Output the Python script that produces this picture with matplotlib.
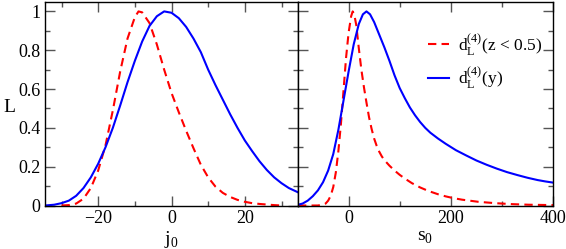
import matplotlib
matplotlib.use('Agg')
import matplotlib.pyplot as plt
from matplotlib.ticker import MultipleLocator

plt.rcParams['font.family'] = ['Liberation Serif', 'DejaVu Serif']
plt.rcParams['mathtext.fontset'] = 'custom'
plt.rcParams['mathtext.rm'] = 'Liberation Serif'

# left panel: L vs j0
j_blue = [-34.5, -32, -30, -28, -26, -24, -22, -20, -18, -16, -14, -12, -10, -8, -6, -4, -2,
          0, 2, 4, 6, 8, 10, 12, 14, 16, 18, 20, 22, 24, 26, 28, 30, 32, 34.5]
L_blue_j = [0.0, 0.004, 0.012, 0.025, 0.05, 0.09, 0.145, 0.215, 0.30, 0.40, 0.515, 0.635, 0.745,
            0.845, 0.925, 0.975, 1.0, 0.993, 0.965, 0.92, 0.86, 0.79, 0.70, 0.62, 0.545, 0.47,
            0.40, 0.335, 0.28, 0.228, 0.183, 0.145, 0.115, 0.09, 0.068]
j_red = [-30, -28, -26, -24, -22, -20, -18, -16, -14, -12, -10, -9, -8, -6, -4, -2,
         0, 2, 4, 6, 8, 10, 12, 14, 16, 18, 20, 22, 24, 26, 28, 30]
L_red_j = [0.0, 0.002, 0.01, 0.035, 0.09, 0.18, 0.31, 0.49, 0.69, 0.86, 0.97, 1.0, 0.995, 0.94,
           0.83, 0.70, 0.58, 0.48, 0.385, 0.295, 0.21, 0.145, 0.097, 0.065, 0.044, 0.029,
           0.019, 0.012, 0.008, 0.005, 0.002, 0.0]

# right panel: L vs s0
s_blue = [-99, -90, -80, -70, -60, -50, -40, -30, -20, -10, 0, 10, 20, 28, 35, 42, 50, 60, 70,
          80, 90, 100, 110, 120, 130, 140, 150, 160, 175, 190, 210, 230, 250, 270, 290, 310,
          330, 350, 370, 385, 400]
L_blue_s = [0.004, 0.01, 0.025, 0.048, 0.078, 0.12, 0.18, 0.265, 0.39, 0.54, 0.69, 0.83, 0.935,
            0.985, 1.0, 0.985, 0.945, 0.88, 0.815, 0.745, 0.67, 0.605, 0.553, 0.505, 0.465, 0.43,
            0.40, 0.375, 0.345, 0.318, 0.285, 0.258, 0.232, 0.21, 0.19, 0.172, 0.157, 0.143,
            0.131, 0.124, 0.118]
s_red = [-99, -60, -50, -45, -40, -35, -30, -25, -20, -15, -10, -5, 0, 5, 8, 11, 15, 20, 25, 30,
         35, 40, 45, 50, 55, 60, 65, 70, 80, 90, 100, 110, 124, 140, 156, 175, 190, 205, 222, 254,
         287, 320, 352, 400]
L_red_s = [0.0, 0.0, 0.005, 0.01, 0.025, 0.05, 0.095, 0.17, 0.28, 0.42, 0.59, 0.76, 0.89, 0.975,
           1.0, 0.985, 0.93, 0.81, 0.70, 0.61, 0.53, 0.455, 0.395, 0.345, 0.307, 0.277, 0.253,
           0.234, 0.205, 0.18, 0.158, 0.139, 0.115, 0.093, 0.075, 0.058, 0.047, 0.038, 0.03,
           0.019, 0.012, 0.007, 0.004, 0.002]

fig = plt.figure(figsize=(5.66, 2.49), dpi=100)
ax1 = fig.add_axes([45/566, 1 - 205.5/249, 253/566, 203.8/249])
ax2 = fig.add_axes([298/566, 1 - 205.5/249, 255/566, 203.8/249])

red_style = dict(color='#ff0000', lw=1.5, dashes=(4, 2.5))
ax1.plot(j_red, L_red_j, **red_style)
ax1.plot(j_blue, L_blue_j, color='#0000ff', lw=1.5)
ax2.plot(s_red, L_red_s, label=r'$\mathrm{d}_\mathrm{L}^{(4)}$(z < 0.5)', **red_style)
ax2.plot(s_blue, L_blue_s, color='#0000ff', lw=1.5, label=r'$\mathrm{d}_\mathrm{L}^{(4)}$(y)')

ax1.set_xlim(-34.5, 34.5)
ax2.set_xlim(-99, 400)
for ax in (ax1, ax2):
    ax.set_ylim(0, 1.05)
    ax.yaxis.set_major_locator(MultipleLocator(0.2))
    ax.yaxis.set_minor_locator(MultipleLocator(0.1))
    ax.tick_params(which='both', direction='in', top=True, right=True,
                   labelsize=13, color='#555555', width=1)
    ax.tick_params(which='major', length=7)
    ax.tick_params(which='minor', length=3.6)
    for sp in ax.spines.values():
        sp.set_linewidth(1)

ax1.xaxis.set_major_locator(MultipleLocator(20))
ax1.xaxis.set_minor_locator(MultipleLocator(10))
ax2.xaxis.set_major_locator(MultipleLocator(200))
ax2.xaxis.set_minor_locator(MultipleLocator(100))
ax1.set_yticks([0, 0.2, 0.4, 0.6, 0.8, 1.0])
ax1.set_yticklabels(['0', '0.2', '0.4', '0.6', '0.8', '1'])
ax2.tick_params(labelleft=False)

ax1.set_xlabel(r'j$_0$', fontsize=14, labelpad=1)
ax2.set_xlabel(r's$_0$', fontsize=14, labelpad=1)
ax1.set_ylabel('L', fontsize=14, rotation=0, ha='center', va='center')
ax1.yaxis.set_label_coords(-0.142, 0.483)

ax2.legend(loc='upper right', bbox_to_anchor=(1.02, 0.93), frameon=False, fontsize=12.5,
           handlelength=1.2, handletextpad=0.55, labelspacing=0.45)

fig.savefig('out.png', dpi=100)
